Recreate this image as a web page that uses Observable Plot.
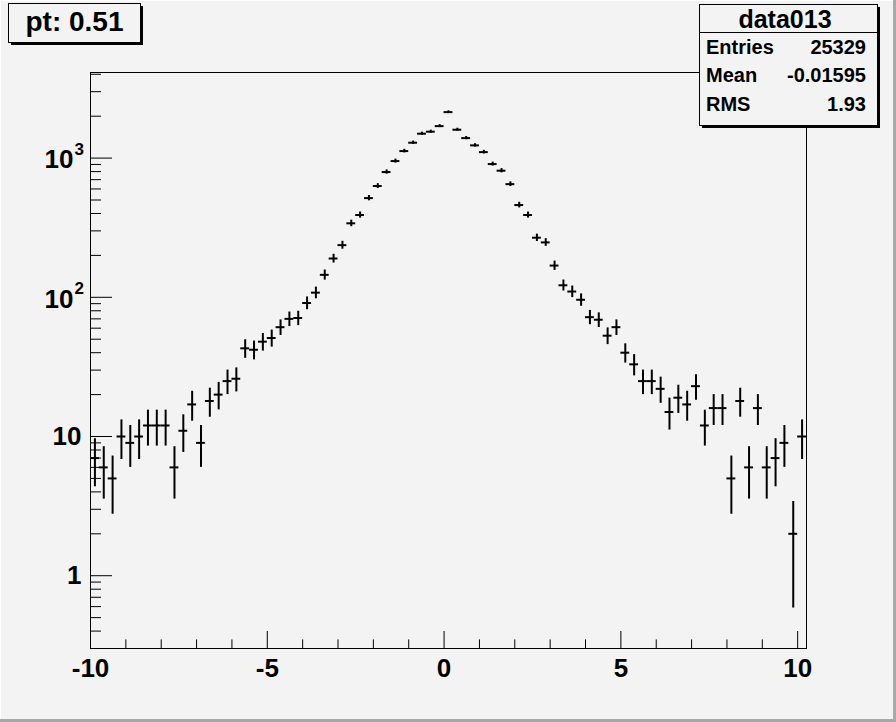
<!DOCTYPE html>
<html><head><meta charset="utf-8">
<script src="https://cdn.jsdelivr.net/npm/d3@7"></script>
<script src="https://cdn.jsdelivr.net/npm/@observablehq/plot@0.6"></script>
<style>
html,body{margin:0;padding:0;background:#f3f3f3;}
#chart{width:896px;height:722px;}
svg{display:block}
</style></head><body><div id="chart"></div>
<script>
const histTitle = "data013";
const padLabel = "pt: 0.51";
const statNames = ["Entries", "Mean", "RMS"];
const statValues = ["25329", "-0.01595", "1.93"];

const xMin = -10, binWidth = 0.25;
const counts = [
  7, 6, 5, 10, 9, 10, 12, 12, 12, 6, 11, 17, 9, 18, 20, 25, 26,
  43, 42, 48, 51, 61, 70, 71, 91, 108, 145, 190, 237,
  340, 390, 516, 630, 794, 952, 1123, 1290, 1497, 1548, 1697, 2139, 1599,
  1392, 1234, 1104, 906, 812, 650, 460, 390, 268, 248, 169, 122,
  110, 96, 72, 69, 53, 61, 40, 33, 25, 25, 22,
  15, 19, 17, 23, 12, 16, 16, 5, 18, 6, 16, 6, 7, 9, 2, 10
];

const xMajorTicks = [-10, -5, 0, 5, 10];
const xMinorTicks = [-9, -8, -7, -6, -4, -3, -2, -1, 1, 2, 3, 4, 6, 7, 8, 9];
const yMajorTicks = [1, 10, 100, 1000];
const yMinorTicks = [0.4, 0.5, 0.6, 0.7, 0.8, 0.9,
  2, 3, 4, 5, 6, 7, 8, 9,
  20, 30, 40, 50, 60, 70, 80, 90,
  200, 300, 400, 500, 600, 700, 800, 900,
  2000, 3000, 4000];
const yPlainLabels = [{v: 1, t: "1"}, {v: 10, t: "10"}];
const yPowLabels = [{v: 100, b: "10", e: "2"}, {v: 1000, b: "10", e: "3"}];

const bins = counts.map((n, i) => ({
  lo: xMin + i * binWidth,
  hi: xMin + (i + 1) * binWidth,
  x: xMin + (i + 0.5) * binWidth,
  n,
  err: Math.sqrt(n)
}));

const FONT = "Liberation Sans, Arial, Helvetica, sans-serif";
const W = 896, H = 722;

const chart = Plot.plot({
  width: W, height: H,
  marginLeft: 90, marginRight: 90, marginTop: 72, marginBottom: 74,
  style: {fontFamily: FONT, background: "#f3f3f3", color: "black"},
  x: {domain: [-10, 10.25], axis: null},
  y: {type: "log", domain: [0.3, 4120], axis: null},
  marks: [
    Plot.frame({stroke: "black", strokeWidth: 1}),
    Plot.axisX({ticks: xMajorTicks, tickSize: -17, fill: "none", stroke: "black", label: null}),
    Plot.axisX({ticks: xMinorTicks, tickSize: -8.6, fill: "none", stroke: "black", label: null}),
    Plot.axisY({ticks: yMajorTicks, tickSize: -22, fill: "none", stroke: "black", label: null}),
    Plot.axisY({ticks: yMinorTicks, tickSize: -11, fill: "none", stroke: "black", label: null}),
    Plot.text(xMajorTicks, {x: d => d, text: d => String(d), frameAnchor: "bottom", dy: 10,
      lineAnchor: "top", fontSize: 26, fontWeight: "bold", fill: "black"}),
    Plot.text(yPlainLabels, {y: "v", text: "t", frameAnchor: "left", dx: -9, textAnchor: "end",
      lineAnchor: "middle", fontSize: 26, fontWeight: "bold", fill: "black"}),
    Plot.text(yPowLabels, {y: "v", text: "b", frameAnchor: "left", dx: -17, dy: 2, textAnchor: "end",
      lineAnchor: "middle", fontSize: 26, fontWeight: "bold", fill: "black"}),
    Plot.text(yPowLabels, {y: "v", text: "e", frameAnchor: "left", dx: -16, dy: -9, textAnchor: "start",
      lineAnchor: "middle", fontSize: 17, fontWeight: "bold", fill: "black"}),
    Plot.ruleX(bins, {x: "x", y1: d => d.n - d.err, y2: d => d.n + d.err, stroke: "black", strokeWidth: 2, clip: true}),
    Plot.ruleY(bins, {y: "n", x1: "lo", x2: "hi", stroke: "black", strokeWidth: 2, clip: true})
  ]
});
document.getElementById("chart").appendChild(chart);

const svg = d3.select(chart);

// canvas bevel border
svg.append("rect").attr("x", 0).attr("y", 0).attr("width", W).attr("height", 1).attr("fill", "#ffffff");
svg.append("rect").attr("x", 0).attr("y", 0).attr("width", 1).attr("height", H).attr("fill", "#ffffff");
svg.append("rect").attr("x", W - 3).attr("y", 0).attr("width", 3).attr("height", H).attr("fill", "#a8a8a8");
svg.append("rect").attr("x", 0).attr("y", H - 3).attr("width", W).attr("height", 3).attr("fill", "#a8a8a8");

// pad label box
const pt = svg.append("g");
pt.append("rect").attr("x", 11).attr("y", 6).attr("width", 132).attr("height", 39).attr("fill", "black");
pt.append("rect").attr("x", 8.5).attr("y", 3.5).attr("width", 132).attr("height", 39)
  .attr("fill", "#f3f3f3").attr("stroke", "black").attr("stroke-width", 1);
pt.append("text").attr("x", 74.5).attr("y", 31).attr("text-anchor", "middle")
  .attr("font-family", FONT).attr("font-weight", "bold").attr("font-size", 28).attr("fill", "black")
  .text(padLabel);

// stats box
const bx = 699, by = 4, bw = 178, bh = 121;
const st = svg.append("g");
st.append("rect").attr("x", bx + 3).attr("y", by + 3).attr("width", bw).attr("height", bh).attr("fill", "black");
st.append("rect").attr("x", bx + 0.5).attr("y", by + 0.5).attr("width", bw).attr("height", bh)
  .attr("fill", "#f3f3f3").attr("stroke", "black").attr("stroke-width", 1);
st.append("line").attr("x1", bx).attr("x2", bx + bw).attr("y1", 32.5).attr("y2", 32.5)
  .attr("stroke", "black").attr("stroke-width", 1);
st.append("text").attr("x", 785).attr("y", 28).attr("text-anchor", "middle")
  .attr("font-family", FONT).attr("font-weight", "bold").attr("font-size", 25).attr("fill", "black")
  .text(histTitle);
const rowY = [54, 82, 111];
statNames.forEach((name, i) => {
  st.append("text").attr("x", 706).attr("y", rowY[i]).attr("text-anchor", "start")
    .attr("font-family", FONT).attr("font-weight", "bold").attr("font-size", 20).attr("fill", "black")
    .text(name);
  st.append("text").attr("x", 866).attr("y", rowY[i]).attr("text-anchor", "end")
    .attr("font-family", FONT).attr("font-weight", "bold").attr("font-size", 20).attr("fill", "black")
    .text(statValues[i]);
});
</script></body></html>
